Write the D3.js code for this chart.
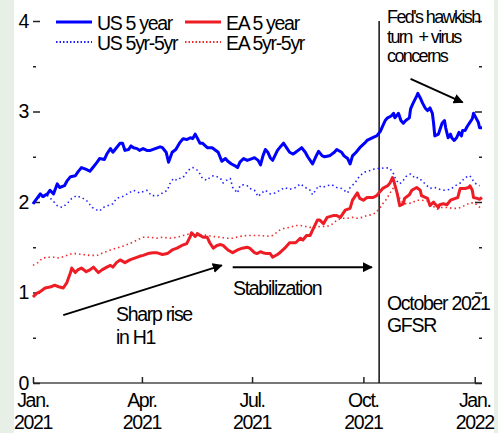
<!DOCTYPE html>
<html>
<head>
<meta charset="utf-8">
<script src="https://cdn.jsdelivr.net/npm/d3@7"></script>
<style>
  body { margin: 0; background: #fff; }
  svg { display: block; }
  text { font-family: "Liberation Sans", Arial, sans-serif; font-size: 19.5px; letter-spacing: -1.3px; fill: #000; }
</style>
</head>
<body>
<script>
// days since 1 Jan 2021, value
var us5y = [[0,1.98],[6,2.09],[8,2.06],[12,2.09],[14,2.13],[17,2.09],[20,2.20],[22,2.16],[26,2.18],[28,2.23],
  [31,2.28],[35,2.29],[37,2.33],[40,2.38],[44,2.36],[47,2.34],[50,2.39],[53,2.44],[55,2.48],[59,2.47],
  [61,2.53],[64,2.59],[66,2.55],[69,2.60],[72,2.65],[74,2.65],[76,2.57],[79,2.58],[81,2.62],[83,2.60],
  [86,2.59],[88,2.57],[91,2.59],[94,2.57],[97,2.57],[101,2.59],[105,2.61],[107,2.60],[110,2.55],[112,2.44],
  [115,2.55],[118,2.58],[121,2.65],[124,2.70],[127,2.69],[130,2.71],[132,2.70],[134,2.75],[136,2.70],[138,2.65],
  [140,2.65],[144,2.60],[148,2.60],[150,2.58],[153,2.55],[156,2.45],[159,2.48],[161,2.45],[164,2.42],[167,2.40],
  [169,2.38],[171,2.44],[174,2.48],[177,2.46],[181,2.48],[183,2.49],[186,2.46],[188,2.41],[190,2.51],[192,2.58],
  [194,2.55],[196,2.49],[198,2.46],[202,2.57],[205,2.62],[207,2.65],[210,2.59],[212,2.55],[215,2.53],[217,2.55],
  [221,2.59],[222,2.60],[225,2.55],[227,2.50],[230,2.44],[231,2.42],[234,2.51],[236,2.56],[239,2.51],[241,2.50],
  [245,2.51],[249,2.55],[251,2.58],[255,2.55],[257,2.51],[260,2.48],[262,2.42],[264,2.51],[267,2.55],[270,2.60],
  [274,2.65],[276,2.68],[279,2.70],[282,2.72],[284,2.73],[287,2.78],[289,2.84],[291,2.90],[293,2.93],[296,2.95],
  [298,2.98],[299,2.93],[302,2.98],[304,2.90],[306,2.87],[308,2.90],[311,2.93],[312,3.03],[314,3.09],[317,3.17],
  [318,3.20],[320,3.15],[322,3.09],[324,3.04],[326,3.01],[328,3.04],[330,2.98],[331,2.87],[332,2.73],[335,2.75],
  [336,2.79],[338,2.87],[340,2.90],[341,2.82],[343,2.71],[345,2.75],[346,2.71],[348,2.68],[350,2.71],[352,2.77],
  [354,2.73],[355,2.79],[357,2.79],[359,2.84],[361,2.88],[363,2.92],[364,2.98],[366,2.93],[368,2.88],[369,2.82],[371,2.82]];

var usFwd = [[0,1.98],[3,2.05],[8,2.05],[12,2.07],[16,2.02],[20,1.96],[24,1.94],[28,1.98],[32,2.04],[36,2.07],
  [40,2.05],[44,2.02],[49,1.94],[53,1.91],[55,1.90],[58,1.94],[62,1.96],[66,1.98],[69,2.04],[74,2.06],
  [78,2.09],[83,2.13],[88,2.10],[94,2.13],[98,2.07],[103,2.07],[107,2.10],[111,2.13],[113,2.20],[116,2.26],
  [119,2.24],[121,2.26],[124,2.27],[127,2.33],[130,2.37],[132,2.38],[136,2.35],[138,2.31],[140,2.26],[144,2.24],
  [146,2.27],[149,2.29],[152,2.28],[155,2.26],[157,2.21],[160,2.24],[163,2.26],[165,2.16],[169,2.10],[171,2.18],
  [174,2.19],[177,2.18],[179,2.15],[183,2.13],[186,2.06],[189,2.10],[192,2.13],[196,2.09],[200,2.10],[204,2.13],
  [208,2.16],[212,2.14],[217,2.16],[221,2.20],[225,2.16],[229,2.13],[231,2.08],[236,2.18],[239,2.16],[243,2.18],
  [247,2.19],[251,2.16],[255,2.15],[260,2.10],[262,2.16],[266,2.21],[270,2.29],[274,2.33],[279,2.35],[283,2.37],
  [287,2.37],[291,2.38],[295,2.37],[298,2.31],[300,2.24],[303,2.20],[306,2.24],[308,2.28],[312,2.31],[316,2.26],
  [318,2.27],[321,2.24],[324,2.20],[328,2.15],[332,2.16],[336,2.14],[340,2.13],[345,2.14],[349,2.18],[353,2.21],
  [357,2.27],[361,2.29],[365,2.21],[369,2.18]];

var ea5y = [[0,0.95],[3,0.99],[6,1.01],[10,1.05],[14,1.06],[18,1.08],[22,1.06],[25,1.05],[28,1.11],[31,1.22],
  [32,1.27],[35,1.22],[37,1.25],[40,1.27],[44,1.23],[47,1.25],[50,1.28],[54,1.22],[57,1.25],[61,1.28],
  [64,1.30],[66,1.28],[69,1.33],[72,1.36],[76,1.33],[80,1.36],[84,1.38],[88,1.40],[91,1.41],[95,1.43],
  [99,1.44],[102,1.44],[107,1.42],[111,1.43],[115,1.47],[119,1.49],[123,1.52],[127,1.54],[130,1.62],[131,1.66],
  [134,1.62],[136,1.65],[138,1.63],[141,1.61],[144,1.61],[146,1.55],[149,1.49],[152,1.52],[155,1.53],[157,1.52],
  [161,1.47],[165,1.44],[169,1.47],[173,1.49],[177,1.50],[179,1.49],[183,1.44],[185,1.43],[188,1.45],[190,1.44],
  [193,1.43],[196,1.43],[198,1.39],[202,1.42],[204,1.44],[208,1.49],[212,1.55],[217,1.55],[221,1.60],[223,1.58],
  [226,1.63],[229,1.63],[231,1.69],[235,1.80],[237,1.80],[240,1.76],[243,1.83],[248,1.85],[251,1.85],[254,1.83],
  [258,1.91],[262,1.93],[264,2.02],[268,2.10],[270,2.04],[273,2.02],[276,2.05],[281,2.05],[284,2.07],[287,2.12],
  [289,2.15],[293,2.18],[295,2.21],[297,2.27],[298,2.24],[301,2.09],[303,1.96],[306,1.98],[307,2.04],[311,2.08],
  [313,2.13],[317,2.16],[320,2.13],[321,2.07],[326,2.04],[328,1.96],[331,2.00],[332,1.98],[335,1.94],[336,1.97],
  [339,1.98],[342,1.97],[345,2.02],[349,2.04],[351,2.05],[353,2.15],[357,2.15],[360,2.16],[361,2.18],[363,2.13],
  [364,2.05],[367,2.04],[369,2.03],[371,2.05]];

var eaFwd = [[0,1.30],[4,1.33],[8,1.38],[12,1.39],[17,1.39],[22,1.38],[26,1.40],[32,1.43],[36,1.43],[41,1.42],
  [47,1.41],[53,1.41],[58,1.44],[64,1.47],[69,1.49],[74,1.51],[80,1.54],[86,1.58],[91,1.61],[97,1.61],
  [102,1.60],[107,1.61],[113,1.60],[119,1.61],[124,1.63],[130,1.65],[134,1.66],[138,1.64],[144,1.63],[149,1.62],
  [155,1.61],[160,1.60],[165,1.60],[171,1.62],[177,1.63],[182,1.63],[188,1.63],[193,1.62],[198,1.63],[204,1.69],
  [208,1.71],[212,1.72],[217,1.74],[221,1.74],[225,1.73],[229,1.72],[233,1.72],[237,1.73],[243,1.73],[248,1.76],
  [251,1.80],[255,1.82],[260,1.82],[264,1.83],[268,1.82],[272,1.83],[276,1.85],[280,1.86],[283,1.88],[287,1.94],
  [289,1.98],[292,2.03],[295,2.10],[298,2.16],[300,2.13],[303,2.04],[306,1.98],[309,1.98],[313,1.99],[317,2.02],
  [321,2.02],[326,2.01],[330,1.96],[334,1.92],[337,1.94],[342,1.94],[347,1.93],[351,1.93],[355,1.95],[358,1.97],
  [361,1.99],[365,1.99],[368,1.95],[371,1.93]];

var yTicks = [0, 1, 2, 3, 4];
var yMinor = [0.5, 1.5, 2.5, 3.5];
var xTicks = [[2021, 0, "Jan.", "2021"], [2021, 3, "Apr.", "2021"], [2021, 6, "Jul.", "2021"],
  [2021, 9, "Oct.", "2021"], [2022, 0, "Jan.", "2022"]];
var gfsrDay = 286;

var width = 498;
var height = 433;
var start = new Date(2021, 0, 1);
function toDate(d) { return d3.timeDay.offset(start, d); }

var svg = d3.select("body").append("svg")
  .attr("width", width)
  .attr("height", height);

// side strips
svg.append("rect").attr("x", 0).attr("y", 0).attr("width", 14).attr("height", height).attr("fill", "#e8efe7");
svg.append("rect").attr("x", 494).attr("y", 0).attr("width", 4).attr("height", height).attr("fill", "#e8efe7");

var x = d3.scaleTime()
  .domain([start, new Date(2022, 0, 7)])
  .range([33, 482]);

var y = d3.scaleLinear()
  .domain([0, 4])
  .range([383, 21]);

// x axis baseline
svg.append("line")
  .attr("x1", x.range()[0]).attr("x2", x.range()[1])
  .attr("y1", y(0)).attr("y2", y(0))
  .attr("stroke", "#777").attr("stroke-width", 2);

var xAxis = svg.append("g")
  .attr("transform", "translate(0," + y(0) + ")")
  .call(d3.axisBottom(x)
    .tickValues(xTicks.map(function(t) { return new Date(t[0], t[1], 1); }))
    .tickSize(-6)
    .tickFormat(""));
xAxis.select(".domain").remove();
xAxis.selectAll(".tick line").attr("stroke", "#222").attr("stroke-width", 1.5);

var xLab = svg.append("g");
xTicks.forEach(function(t) {
  var px = x(new Date(t[0], t[1], 1));
  var txt = xLab.append("text").attr("text-anchor", "middle");
  txt.append("tspan").attr("x", px).attr("y", y(0) + 24).text(t[2]);
  txt.append("tspan").attr("x", px).attr("y", y(0) + 46).text(t[3]);
});

// y axes (ticks pointing inward)
function yAxisG(axis, tx, size, labels) {
  var g = svg.append("g")
    .attr("transform", "translate(" + tx + ",0)")
    .call(axis.tickSize(size).tickPadding(5));
  g.select(".domain").remove();
  g.selectAll(".tick line").attr("stroke", "#222").attr("stroke-width", 1.5);
  g.selectAll("text").attr("font-size", null).attr("font-family", null);
  if (!labels) g.selectAll("text").remove();
  return g;
}
yAxisG(d3.axisLeft(y).tickValues(yTicks).tickFormat(d3.format("d")), x.range()[0], -7, true);
yAxisG(d3.axisLeft(y).tickValues(yMinor), x.range()[0], -3, false);
yAxisG(d3.axisRight(y).tickValues(yTicks), x.range()[1], -7, false);
yAxisG(d3.axisRight(y).tickValues(yMinor), x.range()[1], -3, false);

// GFSR vertical line
svg.append("line")
  .attr("x1", x(toDate(gfsrDay))).attr("x2", x(toDate(gfsrDay)))
  .attr("y1", y(4)).attr("y2", y(0))
  .attr("stroke", "#111").attr("stroke-width", 1.5);

var line = d3.line()
  .x(function(d) { return x(toDate(d[0])); })
  .y(function(d) { return y(d[1]); });

var series = [
  { data: usFwd, color: "#2020ff", width: 1.6, dash: "1.5,3" },
  { data: eaFwd, color: "#ee2a2a", width: 1.6, dash: "1.5,3" },
  { data: us5y, color: "#0000ff", width: 3, dash: null },
  { data: ea5y, color: "#ee1c25", width: 3, dash: null }
];
series.forEach(function(s) {
  svg.append("path")
    .datum(s.data)
    .attr("fill", "none")
    .attr("stroke", s.color)
    .attr("stroke-width", s.width)
    .attr("stroke-dasharray", s.dash)
    .attr("stroke-linejoin", "round")
    .attr("d", line);
});

// legend
var legend = [
  { name: "US 5 year", color: "#0000ff", width: 3, dash: null, lx: 56, ly: 22 },
  { name: "EA 5 year", color: "#ee1c25", width: 3, dash: null, lx: 185, ly: 22 },
  { name: "US 5yr-5yr", color: "#2020ff", width: 2, dash: "1.5,2", lx: 56, ly: 42 },
  { name: "EA 5yr-5yr", color: "#ee2a2a", width: 2, dash: "1.5,2", lx: 185, ly: 42 }
];
legend.forEach(function(l) {
  svg.append("line")
    .attr("x1", l.lx).attr("x2", l.lx + 36)
    .attr("y1", l.ly).attr("y2", l.ly)
    .attr("stroke", l.color).attr("stroke-width", l.width)
    .attr("stroke-dasharray", l.dash);
  svg.append("text").attr("x", l.lx + 41).attr("y", l.ly + 8).text(l.name);
});

// annotations
svg.append("defs").append("marker")
  .attr("id", "arr")
  .attr("viewBox", "0 0 10 10")
  .attr("refX", 9).attr("refY", 5)
  .attr("markerWidth", 5).attr("markerHeight", 5)
  .attr("orient", "auto")
  .append("path").attr("d", "M0,0L10,5L0,10z").attr("fill", "#000");

var arrows = [
  [[25, 0.75], [156, 1.30]],
  [[165, 1.28], [280, 1.28]],
  [[312, 3.36], [355, 3.10]]
];
arrows.forEach(function(a) {
  svg.append("line")
    .attr("x1", x(toDate(a[0][0]))).attr("y1", y(a[0][1]))
    .attr("x2", x(toDate(a[1][0]))).attr("y2", y(a[1][1]))
    .attr("stroke", "#000").attr("stroke-width", 2)
    .attr("marker-end", "url(#arr)");
});

var notes = [
  { x: 116, y: 321, lines: ["Sharp rise", "in H1"], dy: 23, size: null, ls: null },
  { x: 233, y: 295, lines: ["Stabilization"], dy: 22, size: null, ls: null },
  { x: 387, y: 310, lines: ["October 2021", "GFSR"], dy: 22, size: null, ls: null },
  { x: 387, y: 23, lines: ["Fed's hawkish", "turn  + virus", "concerns"], dy: 19.5, size: "18px", ls: "-1.6px" }
];
notes.forEach(function(n) {
  var t = svg.append("text").attr("xml:space", "preserve")
    .style("font-size", n.size).style("letter-spacing", n.ls);
  n.lines.forEach(function(s, i) {
    t.append("tspan").attr("x", n.x).attr("y", n.y + i * n.dy).text(s);
  });
});
</script>
</body>
</html>
